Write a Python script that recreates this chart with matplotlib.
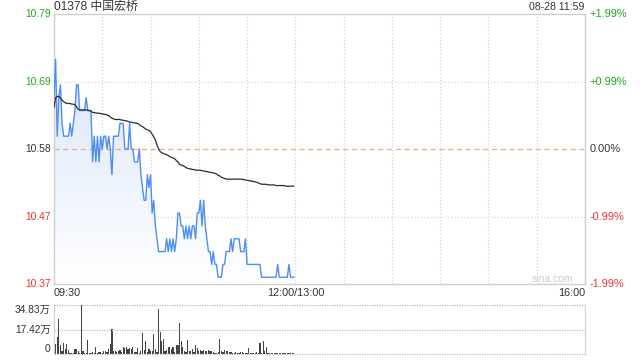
"""
Intraday minute chart for 01378 (price, average price and volume), redrawn from a sina snapshot.
"""
import matplotlib
matplotlib.use("Agg")
import matplotlib.pyplot as plt
import matplotlib.transforms as mtransforms
from matplotlib.colors import LinearSegmentedColormap
from matplotlib.patches import Polygon
import numpy as np

plt.rcParams['font.family'] = ['Liberation Sans', 'Noto Sans CJK SC', 'DejaVu Sans']

title = '01378 中国宏桥'
stamp = '08-28 11:59'
prev_close = 10.58
session_minutes = 330  # 09:30-12:00 + 13:00-16:00

# one value per minute from 09:30
price = [
    10.66, 10.72, 10.60, 10.66, 10.68, 10.62, 10.60, 10.60, 10.60, 10.60,
    10.62, 10.60, 10.62, 10.64, 10.68, 10.68, 10.64, 10.64, 10.64, 10.64,
    10.66, 10.64, 10.64, 10.64, 10.56, 10.60, 10.56, 10.60, 10.56, 10.60,
    10.58, 10.60, 10.60, 10.58, 10.60, 10.58, 10.54, 10.60, 10.60, 10.60,
    10.60, 10.62, 10.62, 10.62, 10.58, 10.58, 10.58, 10.62, 10.58, 10.58,
    10.56, 10.56, 10.56, 10.58, 10.54, 10.52, 10.50, 10.50, 10.54, 10.52,
    10.54, 10.48, 10.50, 10.46, 10.44, 10.42, 10.42, 10.42, 10.42, 10.42,
    10.44, 10.42, 10.44, 10.42, 10.44, 10.42, 10.44, 10.48, 10.48, 10.46,
    10.46, 10.44, 10.46, 10.44, 10.46, 10.44, 10.46, 10.46, 10.44, 10.48,
    10.48, 10.50, 10.46, 10.50, 10.46, 10.44, 10.42, 10.42, 10.40, 10.42,
    10.40, 10.40, 10.38, 10.38, 10.38, 10.40, 10.40, 10.42, 10.42, 10.42,
    10.44, 10.42, 10.44, 10.44, 10.44, 10.44, 10.42, 10.42, 10.42, 10.44,
    10.40, 10.40, 10.40, 10.40, 10.40, 10.40, 10.40, 10.40, 10.40, 10.38,
    10.38, 10.38, 10.38, 10.38, 10.38, 10.38, 10.38, 10.38, 10.38, 10.40,
    10.38, 10.38, 10.38, 10.38, 10.38, 10.38, 10.40, 10.38, 10.38, 10.38,
]

avg_price = [
    10.645, 10.660, 10.662, 10.662, 10.660, 10.656, 10.654, 10.652, 10.651, 10.651,
    10.651, 10.650, 10.650, 10.649, 10.646, 10.642, 10.641, 10.641, 10.641, 10.641,
    10.641, 10.640, 10.640, 10.639, 10.637, 10.637, 10.636, 10.636, 10.636, 10.635,
    10.635, 10.634, 10.634, 10.633, 10.632, 10.630, 10.628, 10.627, 10.626, 10.626,
    10.626, 10.626, 10.625, 10.625, 10.624, 10.624, 10.623, 10.622, 10.622, 10.621,
    10.621, 10.620, 10.620, 10.618, 10.616, 10.615, 10.613, 10.611, 10.610, 10.609,
    10.607, 10.603, 10.599, 10.594, 10.586, 10.580, 10.576, 10.574, 10.573, 10.572,
    10.571, 10.570, 10.568, 10.567, 10.566, 10.565, 10.562, 10.560, 10.556, 10.555,
    10.554, 10.553, 10.551, 10.550, 10.549, 10.549, 10.548, 10.548, 10.547, 10.547,
    10.547, 10.547, 10.546, 10.546, 10.545, 10.545, 10.544, 10.544, 10.543, 10.543,
    10.542, 10.541, 10.539, 10.538, 10.536, 10.535, 10.534, 10.533, 10.533, 10.533,
    10.533, 10.533, 10.533, 10.533, 10.533, 10.533, 10.533, 10.533, 10.532, 10.532,
    10.531, 10.531, 10.530, 10.530, 10.529, 10.529, 10.528, 10.527, 10.526, 10.525,
    10.525, 10.525, 10.525, 10.524, 10.524, 10.524, 10.524, 10.524, 10.523, 10.523,
    10.523, 10.523, 10.523, 10.523, 10.522, 10.522, 10.522, 10.522, 10.522, 10.522,
]

# volume in 万 shares
volume = [
    4.0, 7.1, 12.0, 25.0, 6.2, 2.0, 8.0, 3.3, 7.1, 2.8,
    1.0, 1.0, 0.5, 3.6, 3.6, 1.9, 0.8, 34.83, 1.9, 1.0,
    0.6, 10.0, 1.0, 1.0, 1.4, 0.8, 5.0, 1.0, 1.6, 1.4,
    1.0, 1.9, 2.4, 1.5, 3.8, 7.1, 17.8, 1.9, 2.4, 1.6,
    1.9, 2.8, 1.5, 4.7, 4.0, 4.7, 3.3, 4.0, 3.8, 4.7,
    1.6, 1.4, 4.0, 1.0, 2.0, 14.7, 2.8, 9.0, 1.4, 3.3,
    1.9, 2.4, 14.2, 3.3, 1.2, 31.7, 15.9, 9.5, 10.4, 1.9,
    2.8, 4.7, 4.7, 3.3, 5.2, 1.4, 6.2, 6.2, 22.3, 9.0,
    4.7, 1.9, 1.2, 10.0, 1.9, 1.9, 3.3, 1.2, 6.6, 4.0,
    2.4, 2.8, 1.9, 2.8, 1.9, 2.4, 2.8, 2.4, 1.9, 1.4,
    1.0, 0.6, 1.2, 10.7, 1.9, 1.4, 2.8, 1.9, 2.4, 1.6,
    1.4, 0.9, 0.9, 1.2, 0.9, 0.9, 1.2, 1.4, 0.6, 0.9,
    1.0, 4.3, 0.9, 0.9, 0.9, 0.9, 1.2, 0.6, 8.0, 1.0,
    9.2, 1.9, 5.2, 0.9, 0.9, 0.9, 0.5, 0.9, 0.7, 0.9,
    0.7, 0.9, 0.7, 0.9, 0.7, 0.5, 0.5, 0.7, 0.5, 0.4,
]

price_labels = ['10.79', '10.69', '10.58', '10.47', '10.37']
pct_labels = ['+1.99%', '+0.99%', '0.00%', '-0.99%', '-1.99%']
time_labels = ['09:30', '12:00/13:00', '16:00']
time_label_pos = [0, 150, 330]
vol_labels = ['34.83万', '17.42万', '0']
vol_max = 34.83

GREEN = '#1ea81e'
RED = '#f03232'
DARK = '#333333'
label_colors = [GREEN, GREEN, DARK, RED, RED]
GRID = '#cfcfcf'
FS = 7.4


def draw_price_panel(fig):
    ax = fig.add_axes([54 / 640, 76 / 360, 531 / 640, 270 / 360])
    x = np.arange(len(price))
    lo = prev_close * (1 - 0.0199)
    hi = prev_close * (1 + 0.0199)

    # gradient fill under the price line, clipped to the area below it
    verts = np.column_stack([np.r_[x[0], x, x[-1]], np.r_[lo, price, lo]])
    poly = Polygon(verts, closed=True, facecolor='none', edgecolor='none')
    ax.add_patch(poly)
    fade = LinearSegmentedColormap.from_list('fade', ['#ffffff', '#d9e6fb'])
    grad = np.linspace(1, 0, 256).reshape(-1, 1)
    im = ax.imshow(grad, cmap=fade, vmin=0, vmax=1, aspect='auto', origin='upper',
                   extent=[x[0], x[-1], lo, max(price)], zorder=1)
    im.set_clip_path(poly)

    # grid
    for t in range(30, session_minutes, 30):
        ax.axvline(t, color=GRID, ls=(0, (1, 2)), lw=0.8, zorder=0)
    ticks = np.linspace(hi, lo, 5)
    for p in (ticks[1], ticks[3]):
        ax.axhline(p, color=GRID, ls=(0, (1, 2)), lw=0.8, zorder=0)
    ax.axhline(prev_close, color='#f2a878', ls=(0, (4, 3)), lw=0.9, zorder=2)

    ax.plot(x, price, color='#4f8ef0', lw=1.0, zorder=3)
    ax.plot(x, avg_price, color='#2b2b2b', lw=0.9, zorder=4)

    ax.set_xlim(0, session_minutes)
    ax.set_ylim(lo, hi)
    ax.set_xticks([])
    ax.set_yticks([])
    for s in ax.spines.values():
        s.set_color(GRID)
        s.set_linewidth(1.0)

    # price / percent labels on both sides
    trans = mtransforms.blended_transform_factory(ax.transAxes, ax.transData)
    for p, lab, pct, c in zip(ticks, price_labels, pct_labels, label_colors):
        ax.text(-0.006, p, lab, transform=trans, ha='right', va='center', color=c, fontsize=FS)
        ax.text(1.008, p, pct, transform=trans, ha='left', va='center', color=c, fontsize=7.9)

    # time labels under the axis
    trans_x = mtransforms.blended_transform_factory(ax.transData, ax.transAxes)
    for pos, lab in zip(time_label_pos, time_labels):
        ha = 'left' if pos == 0 else ('right' if pos == session_minutes else 'center')
        ax.text(pos, -0.034, lab, transform=trans_x, ha=ha, va='center', color=DARK, fontsize=7.8)

    ax.text(310, 0.02, 'sina.com', transform=trans_x, ha='center', va='center',
            color='#cccccc', fontsize=7.5)
    return ax


def draw_volume_panel(fig):
    vax = fig.add_axes([54 / 640, 6 / 360, 531 / 640, 49 / 360])
    x = np.arange(len(volume))
    vax.bar(x, volume, width=0.75, color='#444444', linewidth=0)
    vax.set_xlim(0, session_minutes)
    vax.set_ylim(0, vol_max)
    vax.set_xticks([])
    vax.set_yticks([])
    for side in ('top', 'bottom'):
        vax.spines[side].set_visible(False)
    vax.spines['right'].set_color(GRID)
    vax.spines['left'].set_color(GRID)
    vax.spines['left'].set_linestyle((0, (1, 1)))

    for v in (vol_max, vol_max / 2, 0):
        vax.axhline(v, color='#bdbdbd', ls=(0, (1, 1)), lw=0.9, clip_on=False)

    trans = mtransforms.blended_transform_factory(vax.transAxes, vax.transData)
    for v, lab, va in zip((vol_max, vol_max / 2, 0), vol_labels, ('top', 'center', 'bottom')):
        vax.text(-0.006, v, lab, transform=trans, ha='right', va=va, color=DARK, fontsize=FS)
    return vax


fig = plt.figure(figsize=(6.4, 3.6), dpi=100)
draw_price_panel(fig)
draw_volume_panel(fig)
fig.text(54 / 640, 1 - 7 / 360, title, ha='left', va='center', color=DARK, fontsize=8.6)
fig.text(584 / 640, 1 - 7 / 360, stamp, ha='right', va='center', color=DARK, fontsize=7.6)
fig.savefig('out.png', dpi=100)
plt.close(fig)
